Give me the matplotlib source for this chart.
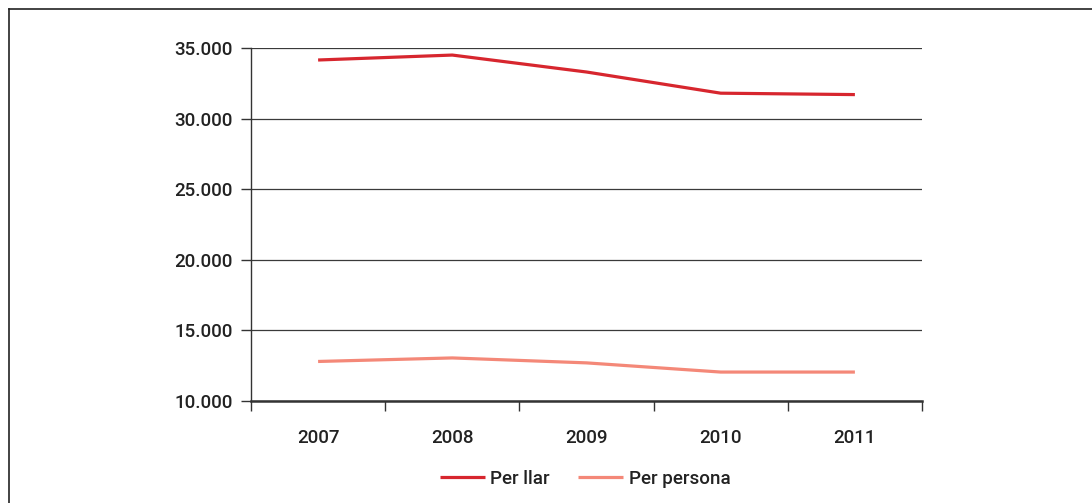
import matplotlib
matplotlib.use("Agg")
import matplotlib.pyplot as plt
from matplotlib.lines import Line2D
from matplotlib.ticker import FuncFormatter

years = ["2007", "2008", "2009", "2010", "2011"]
per_llar = [34150, 34500, 33300, 31800, 31700]
per_persona = [12800, 13050, 12700, 12050, 12050]
yticks = [10000, 15000, 20000, 25000, 30000, 35000]

plt.rcParams['font.family'] = ['Roboto', 'DejaVu Sans']
plt.rcParams['font.weight'] = 'medium'

W, H = 1092, 503
fig = plt.figure(figsize=(W/100, H/100), dpi=100)
ax = fig.add_axes([251/W, 1-401/H, (922-251)/W, (401-48)/H])

x = list(range(len(years)))
ax.plot(x, per_llar, color="#d7262e", lw=2.3, label="Per llar", solid_capstyle="butt")
ax.plot(x, per_persona, color="#f48878", lw=2.3, label="Per persona", solid_capstyle="butt")

ax.set_xlim(-0.5, len(years)-0.5)
ax.set_ylim(10000, 35000)
ax.set_yticks(yticks)
ax.yaxis.set_major_formatter(FuncFormatter(lambda v, p: f"{int(v):,}".replace(",", ".")))
ax.grid(axis="y", color="#3a3a3a", lw=0.9)
ax.set_axisbelow(True)

ax.set_xticks([i-0.5 for i in range(len(years)+1)])
ax.set_xticklabels([])
ax.set_xticks(x, minor=True)
ax.set_xticklabels(years, minor=True)
ax.tick_params(axis="x", which="major", length=7, width=1, color="#333333", direction="out")
ax.tick_params(axis="x", which="minor", length=0, pad=20, labelsize=13.5, labelcolor="#222222")
ax.tick_params(axis="y", length=7, width=1, color="#333333", labelsize=13.5, labelcolor="#222222", pad=6)

for s in ["top", "right"]:
    ax.spines[s].set_visible(False)
ax.spines["left"].set_color("#333333")
ax.spines["left"].set_linewidth(1)
ax.spines["bottom"].set_color("#333333")
ax.spines["bottom"].set_linewidth(1.8)

leg = fig.legend(loc="center", bbox_to_anchor=(585/W, 1-479/H), ncol=2, frameon=False,
                 fontsize=13.5, handlelength=2.4, handletextpad=0.3, columnspacing=1.5)
for t in leg.get_texts():
    t.set_color("#222222")

# figure frame: top and left lines
fig.add_artist(Line2D([9/W, 9/W], [0, 1-9/H], transform=fig.transFigure, color="#222222", lw=1.2))
fig.add_artist(Line2D([9/W, 1], [1-9/H, 1-9/H], transform=fig.transFigure, color="#222222", lw=1.2))

fig.savefig("out.png", dpi=100)
